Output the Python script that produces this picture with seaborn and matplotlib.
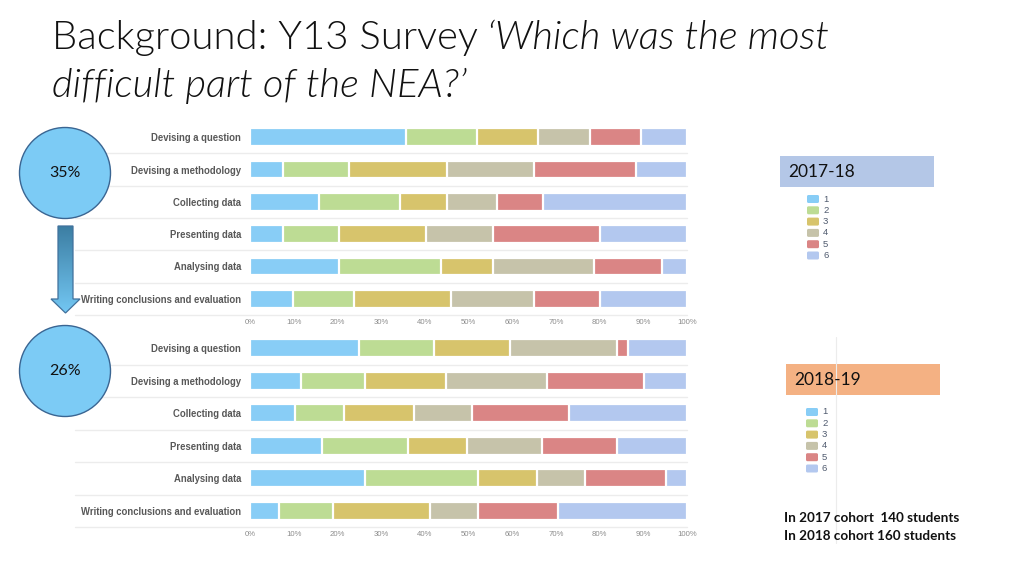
import numpy as np
import pandas as pd
import matplotlib
matplotlib.use("Agg")
import matplotlib.pyplot as plt
import seaborn as sns
from matplotlib.patches import Circle, Rectangle, Polygon, FancyBboxPatch
from matplotlib.colors import LinearSegmentedColormap

# ─── Data (share of students, %) ─────────────────────────────────────────────
TASKS = ["Devising a question", "Devising a methodology", "Collecting data",
         "Presenting data", "Analysing data", "Writing conclusions and evaluation"]
SCORES = ["1", "2", "3", "4", "5", "6"]

SHARE_1718 = [
    [35.6, 16.4, 14.0, 11.8, 11.7, 10.5],
    [7.5, 15.1, 22.4, 19.9, 23.4, 11.7],
    [15.7, 18.7, 10.6, 11.6, 10.5, 32.9],
    [7.5, 12.9, 19.8, 15.4, 24.5, 19.9],
    [20.4, 23.4, 11.8, 23.2, 15.4, 5.8],
    [9.8, 14.1, 22.1, 19.0, 15.1, 19.9],
]
SHARE_1819 = [
    [25.0, 17.2, 17.3, 24.5, 2.5, 13.5],
    [11.7, 14.6, 18.5, 23.2, 22.2, 9.8],
    [10.4, 11.0, 16.1, 13.3, 22.1, 27.1],
    [16.5, 19.7, 13.5, 17.1, 17.2, 16.0],
    [26.3, 25.8, 13.5, 11.1, 18.4, 4.9],
    [6.7, 12.3, 22.1, 11.0, 18.4, 29.5],
]
HARDEST_1718 = "35%"
HARDEST_1819 = "26%"
COHORT_NOTE = ["In 2017 cohort  140 students", "In 2018 cohort 160 students"]

COLOURS = ["#88cdf6", "#bddc94", "#d7c46c", "#c6c3aa", "#da8585", "#b3c8ef"]

sns.set_style("white")
plt.rcParams["font.family"] = ["Lato", "DejaVu Sans"]

W, H = 1024, 576
fig = plt.figure(figsize=(W / 100, H / 100), dpi=100)
fig.patch.set_facecolor("white")

ARIAL = ["Liberation Sans", "DejaVu Sans"]


def stacked(ax, shares):
    df = pd.DataFrame(shares, index=TASKS, columns=SCORES)
    cum = df.cumsum(axis=1)
    # draw cumulative totals from the longest down so every segment shows
    for score, col in reversed(list(zip(SCORES, COLOURS))):
        sns.barplot(x=cum[score].values, y=TASKS, ax=ax, color=col,
                    saturation=1, width=0.54, edgecolor="white", linewidth=1.6,
                    orient="h")
    ax.set_xlim(0, 100)
    ax.set_ylim(5.5, -0.5)
    ax.set_xticks(range(0, 101, 10))
    ax.set_xticklabels([f"{v}%" for v in range(0, 101, 10)], family=ARIAL)
    ax.set_yticks(range(len(TASKS)))
    ax.set_yticklabels(TASKS, family=ARIAL, fontweight="bold")
    ax.tick_params(axis="x", length=0, labelsize=5.6, colors="#8c8c8c", pad=3)
    ax.tick_params(axis="y", length=0, labelsize=6.85, colors="#585858", pad=6.5)
    ax.set_xlabel("")
    ax.set_ylabel("")
    for s in ax.spines.values():
        s.set_visible(False)
    ax.patch.set_alpha(0)
    for k in range(len(TASKS)):
        ax.axhline(k + 0.5, xmin=-0.4, xmax=1.0, color="#ececec", lw=1,
                   clip_on=False, zorder=0)


ax1 = fig.add_axes([250 / W, 1 - 315 / H, 437 / W, 194 / H])
stacked(ax1, SHARE_1718)
ax2 = fig.add_axes([250 / W, 1 - 527 / H, 437 / W, 195 / H])
stacked(ax2, SHARE_1819)

# ─── Overlay in pixel coordinates for slide decorations ──────────────────────
ov = fig.add_axes([0, 0, 1, 1])
ov.set_zorder(5)
ov.patch.set_alpha(0)
ov.axis("off")

# faint divider line on the right
ov.plot([836, 836], [337, 543], color="#ececec", lw=0.8)

# circles
for cy, lab in [(173, HARDEST_1718), (371, HARDEST_1819)]:
    ov.add_patch(Circle((65, cy), 45.5, facecolor="#7ccbf5", edgecolor="#3a6592", lw=1.0))
    ov.text(65, cy, lab, ha="center", va="center", fontsize=11.5, color="#111111")

# gradient arrow
pts = [(58, 226), (73, 226), (73, 299), (80, 299), (65.5, 313), (51, 299), (58, 299)]
arrow = Polygon(pts, closed=True, facecolor="none", edgecolor="#41719c", lw=0.9, zorder=3)
ov.add_patch(arrow)
cmap = LinearSegmentedColormap.from_list("arr", ["#3c7ea3", "#73c7f3"])
im = ov.imshow(np.linspace(0, 1, 100).reshape(-1, 1), cmap=cmap, aspect="auto",
               extent=(51, 80, 313, 226), zorder=2)
im.set_clip_path(arrow)

# year boxes
for (x0, y0, fc, lab) in [(780, 156, "#b4c7e7", "2017-18"), (786, 364, "#f4b183", "2018-19")]:
    ov.add_patch(Rectangle((x0, y0), 154, 31, facecolor=fc, edgecolor="none"))
    ov.text(x0 + 8, y0 + 16, lab, ha="left", va="center", fontsize=12.5, color="#111111")

# legends
for lx, ly in [(807, 195), (806, 408)]:
    for i, (lab, col) in enumerate(zip(SCORES, COLOURS)):
        y = ly + i * 11.3
        ov.add_patch(FancyBboxPatch((lx, y), 12, 8, boxstyle="round,pad=0,rounding_size=1.5",
                                    facecolor=col, edgecolor="none"))
        ov.text(lx + 16, y + 4, lab, ha="left", va="center", fontsize=6.8,
                color="#4f5a6e", family=ARIAL)

# cohort note
for i, line in enumerate(COHORT_NOTE):
    ov.text(784, 518 + i * 18, line, ha="left", va="center", fontsize=9.7,
            fontweight="bold", color="#111111")

ov.set_xlim(0, W)
ov.set_ylim(H, 0)

# ─── Title (upright + italic question) ──────────────────────────────────────
TITLE_KW = dict(fontsize=28.8, va="baseline", ha="left", color="#111111", fontweight=300)
t1 = fig.text(52 / W, 1 - 49 / H, "Background: Y13 Survey", **TITLE_KW)
fig.canvas.draw()
bb = t1.get_window_extent()
fig.text(bb.x1 / W + 9 / W, 1 - 49 / H, "\u2018Which was the most", style="italic", **TITLE_KW)
fig.text(52 / W, 1 - 97 / H, "difficult part of the NEA?\u2019", style="italic", **TITLE_KW)

fig.savefig("out.png", dpi=100)
